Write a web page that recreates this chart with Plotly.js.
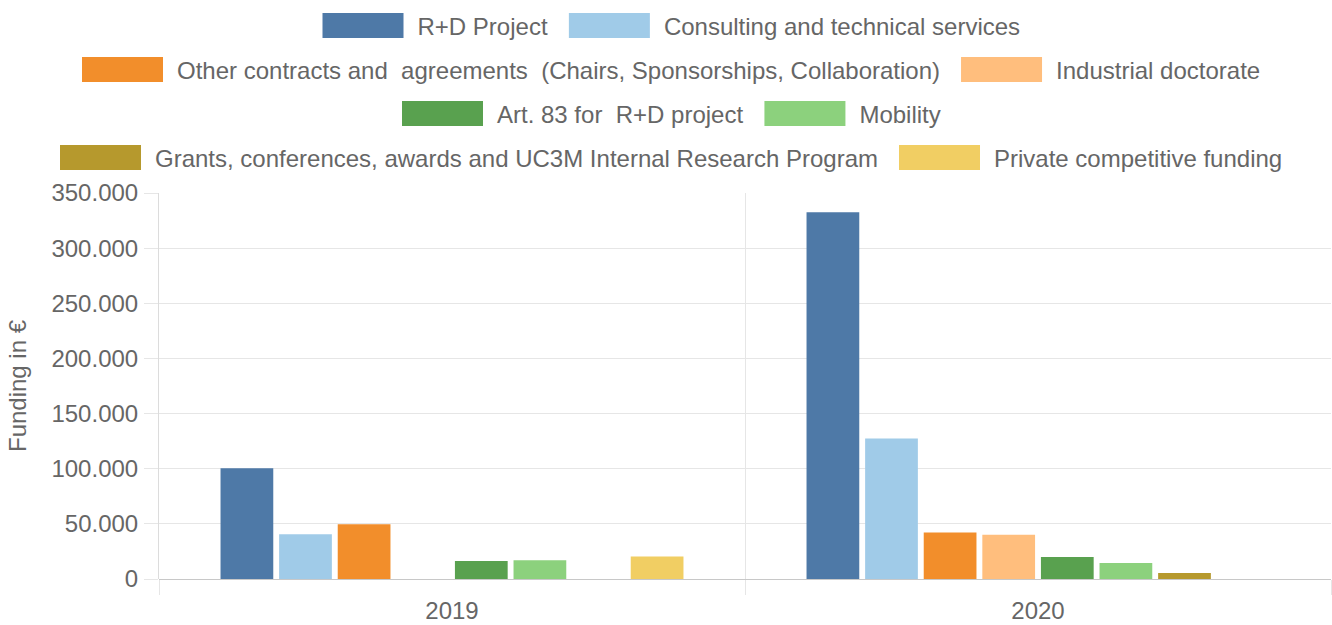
<!DOCTYPE html>
<html>
<head>
<meta charset="utf-8">
<script src="https://cdn.plot.ly/plotly-3.0.1.min.js"></script>
<style>
    html, body { margin: 0; padding: 0; background: #fff; }
    #chart { width: 1332px; height: 625px; }
</style>
</head>
<body>
<div id="chart"></div>
<script>
// Chart data
const years = ['2019', '2020'];

const seriesNames = [
    'R+D Project',
    'Consulting and technical services',
    'Other contracts and  agreements  (Chairs, Sponsorships, Collaboration)',
    'Industrial doctorate',
    'Art. 83 for  R+D project',
    'Mobility',
    'Grants, conferences, awards and UC3M Internal Research Program',
    'Private competitive funding'
];

const rdProject = [100500, 332500];
const consulting = [40600, 127300];
const otherContracts = [49700, 42200];
const industrialDoctorate = [0, 40100];
const art83 = [16400, 19900];
const mobility = [17000, 14500];
const grants = [0, 5400];
const privateFunding = [20400, 0];

const seriesValues = [rdProject, consulting, otherContracts, industrialDoctorate,
    art83, mobility, grants, privateFunding];

const seriesColors = ['#4e79a7', '#a0cbe8', '#f28e2b', '#ffbe7d',
    '#59a14f', '#8cd17d', '#b6992d', '#f1ce63'];

// Legend rows, two entries each, like the original
const legendIds = ['legend', 'legend', 'legend2', 'legend2', 'legend3', 'legend3', 'legend4', 'legend4'];
const legendRowsY = { legend: 1.433, legend2: 1.319, legend3: 1.205, legend4: 1.091 };

const textColor = '#666666';
const gridColor = '#e6e6e6';
const fontFamily = '"Liberation Sans", Arial, sans-serif';

const figWidth = 1332;
const margin = { t: 193, r: 1, b: 46, l: 159 };

function buildTraces() {
    return seriesNames.map((name, i) => ({
        x: years,
        y: seriesValues[i],
        name: name,
        type: 'bar',
        legend: legendIds[i],
        marker: {
            color: seriesColors[i],
            line: { width: 0 }
        },
        hoverinfo: 'name+y'
    }));
}

// Start left of the plot area so long rows don't wrap; centred afterwards
function legendRow(y) {
    return {
        orientation: 'h',
        x: -0.01,
        xanchor: 'left',
        y: y,
        yanchor: 'middle',
        itemwidth: 101,
        itemclick: false,
        font: { size: 24, color: textColor, family: fontFamily },
        bgcolor: 'rgba(0,0,0,0)'
    };
}

const layout = {
    width: figWidth,
    height: 625,
    margin: margin,
    paper_bgcolor: '#ffffff',
    plot_bgcolor: '#ffffff',
    separators: ',.',
    font: { family: fontFamily, size: 24, color: textColor },
    barmode: 'group',
    bargap: 0.2,
    bargroupgap: 0.1,
    showlegend: true,
    xaxis: {
        type: 'category',
        tickson: 'boundaries',
        showgrid: true,
        gridcolor: gridColor,
        ticks: 'outside',
        ticklen: 15,
        tickcolor: gridColor,
        ticklabelstandoff: 15,
        showline: false,
        zeroline: false,
        tickfont: { size: 24, color: textColor },
        automargin: false
    },
    yaxis: {
        range: [0, 350000],
        dtick: 50000,
        tickformat: ',d',
        showgrid: true,
        gridcolor: gridColor,
        ticks: 'outside',
        ticklen: 14,
        tickcolor: gridColor,
        ticklabelstandoff: 1,
        showline: true,
        linecolor: '#dcdcdc',
        zeroline: true,
        zerolinecolor: '#c8c8c8',
        zerolinewidth: 1,
        tickfont: { size: 24, color: textColor },
        title: {
            text: 'Funding in €',
            font: { size: 24, color: textColor },
            standoff: 18
        },
        automargin: false
    }
};
Object.keys(legendRowsY).forEach(id => { layout[id] = legendRow(legendRowsY[id]); });

// Widen the legend swatches to the long boxes of the original
function widenLegendSwatches() {
    document.querySelectorAll('#chart .legendpoints path').forEach(p => {
        p.setAttribute('d', 'M41.5,12.5H-39.5V-12.5H41.5Z');
    });
}

// Centre every legend row on the page
function centreLegendRows(gd) {
    const plotWidth = figWidth - margin.l - margin.r;
    const update = {};
    Object.keys(legendRowsY).forEach(id => {
        const w = gd._fullLayout[id]._width;
        update[id + '.x'] = (figWidth / 2 - w / 2 - margin.l) / plotWidth;
    });
    return Plotly.relayout(gd, update);
}

Plotly.newPlot('chart', buildTraces(), layout, { displayModeBar: false, staticPlot: true })
    .then(centreLegendRows)
    .then(widenLegendSwatches);
</script>
</body>
</html>
